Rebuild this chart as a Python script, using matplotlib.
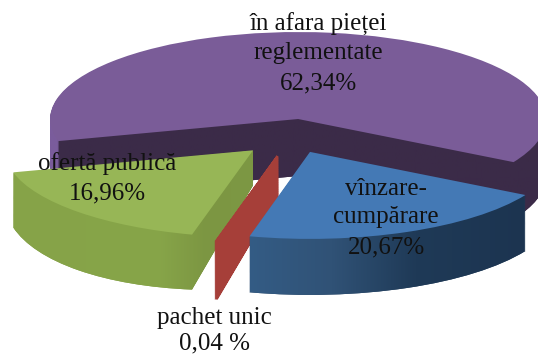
import numpy as np
import matplotlib
matplotlib.use("Agg")
import matplotlib.pyplot as plt
from matplotlib.colors import LinearSegmentedColormap
from matplotlib.path import Path
from matplotlib.patches import PathPatch
from matplotlib.transforms import Affine2D

# data (clockwise from the left edge of the largest slice)
categories = ["în afara pieței\nreglementate", "vînzare-\ncumpărare", "pachet unic", "ofertă publică"]
shares = [62.34, 20.67, 0.04, 16.96]
share_labels = ["62,34%", "20,67%", "0,04 %", "16,96%"]

# style
top_colors = ["#7A5C98", "#4479B5", "#A63F39", "#97B656"]
side_stops = [
    [(0.0, "#7A5C9C"), (0.0155, "#7A5C9C"), (0.017, "#3B2B48"), (1.0, "#3B2B48")],
    [(0.0, "#345C85"), (0.3, "#305276"), (0.6, "#1F3A57"), (1.0, "#1C3450")],
    None,
    [(0.0, "#86A348"), (0.6, "#87A549"), (0.8, "#7C9642"), (1.0, "#7D9844")],
]
side_spans = [(50, 538), (248, 526), None, (13, 254)]
side_base = ["#3B2B48", "#24405E", "#A63F39", "#84A047"]
explode = [0.205, 0.19, 0.23, 0.22]
rim_depth = [57, 56, 58, 55]
apex_depth = [57, 56, 40, 35]
z_order = [1, 4, 3, 2]
label_pos = [(318, 24, 53, 83), (386, 189, 217, 247), (214, 318, 343), (107, 164, 193)]

W, H = 538, 355
CX, CY, RX, RY = 291.5, 136.7, 248.0, 87.0
START = 194.7
N_LAYERS = 58

fig = plt.figure(figsize=(W / 100, H / 100), dpi=100, facecolor="white")
ax = fig.add_axes([0, 0, 1, 1])


def draw_pie():
    wedges, _ = ax.pie(shares, explode=explode, startangle=START, counterclock=False,
                       normalize=True, wedgeprops={"linewidth": 0})
    return wedges


def drop_transform(w, t, rim_px, apex_px):
    """Shear that lowers a slice by apex_px at its tip and rim_px along its chord."""
    (cx, cy), r = w.center, w.r
    a1, a2 = np.radians(w.theta1), np.radians(w.theta2)
    pts = np.array([[cx, cy, 1.0],
                    [cx + r * np.cos(a1), cy + r * np.sin(a1), 1.0],
                    [cx + r * np.cos(a2), cy + r * np.sin(a2), 1.0]])
    drop = np.array([apex_px, rim_px, rim_px]) * t / RY
    if w.theta2 - w.theta1 < 1 or abs(rim_px - apex_px) < 1e-6:
        mid = (a1 + a2) / 2
        dirx, diry = np.cos(mid), np.sin(mid)
        g = (rim_px - apex_px) * t / RY / r
        a, b = g * dirx, g * diry
        c = -(a * cx + b * cy) + apex_px * t / RY
    else:
        a, b, c = np.linalg.solve(pts, drop)
    return Affine2D(np.array([[1, 0, 0], [-a, 1 - b, -c], [0, 0, 1]]))


layer_paths = [[] for _ in shares]
for k in range(N_LAYERS, 0, -1):
    t = k / N_LAYERS
    wedges = draw_pie()
    for i, w in enumerate(wedges):
        aff = drop_transform(w, t, rim_depth[i], apex_depth[i])
        w.set_transform(aff + ax.transData)
        w.set_facecolor(side_base[i])
        w.set_zorder(z_order[i])
        if side_stops[i] is None:
            w.set_edgecolor(side_base[i])
            w.set_linewidth(1.6)
        else:
            p = w.get_path()
            layer_paths[i].append(Path(aff.transform(p.vertices), p.codes))

tops = draw_pie()
for i, w in enumerate(tops):
    w.set_facecolor(top_colors[i])
    w.set_zorder(z_order[i] + 0.5)
    if side_stops[i] is None:
        w.set_edgecolor(top_colors[i])
        w.set_linewidth(1.6)

x0, x1 = -CX / RX, (W - CX) / RX
y0, y1 = (CY - H) / RY, CY / RY

# horizontal shading of the side faces
for i, stops in enumerate(side_stops):
    if stops is None:
        continue
    cmap = LinearSegmentedColormap.from_list(f"side{i}", stops, N=512)
    a, b = side_spans[i]
    im = ax.imshow(np.linspace(0, 1, 512)[None, :], cmap=cmap, aspect="auto",
                   extent=((a - CX) / RX, (b - CX) / RX, y0, y1),
                   zorder=z_order[i] + 0.2, interpolation="bilinear")
    clip = PathPatch(Path.make_compound_path(*layer_paths[i]), transform=ax.transData)
    im.set_clip_path(clip)

ax.set_aspect("auto")
ax.set_xlim(x0, x1)
ax.set_ylim(y0, y1)
ax.axis("off")

# labels
for cat, val, pos in zip(categories, share_labels, label_pos):
    lines = cat.split("\n") + [val]
    for line, y in zip(lines, pos[1:]):
        ax.text((pos[0] - CX) / RX, (CY - y) / RY, line, family="Liberation Serif",
                fontsize=18, color="#111111", ha="center", va="center", zorder=10)

fig.savefig("out.png", dpi=100, facecolor="white")
